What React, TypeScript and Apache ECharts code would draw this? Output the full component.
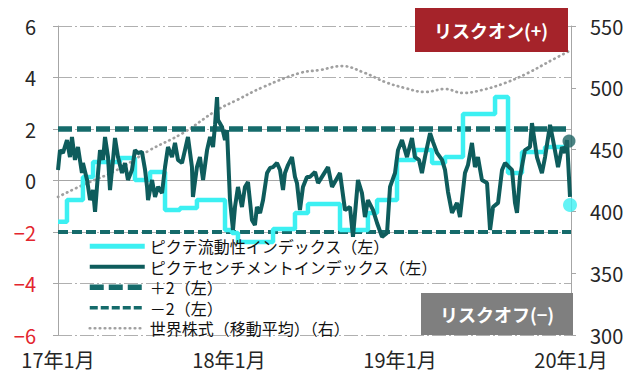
import React, { useEffect, useRef } from "react";
import * as echarts from "echarts";

const FONT = '"Noto Sans CJK JP", "Noto Sans", sans-serif';

// x values: months since 2017-01
const xLabels = ["17年1月", "18年1月", "19年1月", "20年1月"];
const seriesNames = [
  "ピクテ流動性インデックス（左）",
  "ピクテセンチメントインデックス（左）",
  "＋2（左）",
  "－2（左）",
  "世界株式（移動平均）（右）",
];
const upperBand = 2;
const lowerBand = -2;

const liquidity: [number, number][] = [
  [0, -1.6], [0.63, -0.76], [1.75, 0.14], [2.46, 0.72], [4.35, 0.87], [5.4, 0.02],
  [6.46, 0.33], [7.51, -1.15], [8.56, -1.07], [9.75, -0.76], [11.72, -1.92],
  [12.21, -2.04], [12.63, -2.39], [15.09, -1.88], [16.63, -1.26], [17.54, -0.91],
  [19.79, -1.92], [21.75, -1.26], [22.39, -0.76], [23.79, 0.8], [25.05, 1.18],
  [26.25, 0.68], [27.16, 0.91], [28.42, 2.58], [30.67, 3.24], [31.58, 0.29],
  [32.56, 1.11], [34.18, 1.3], [35.79, 1.3],
];

const sentiment: [number, number][] = [
  [0, 0.41], [0.14, 1.18], [0.35, 1.07], [0.63, 1.57], [0.84, 0.91], [0.98, 1.69], [1.19, 0.8],
  [1.4, 1.3], [1.68, 0.29], [1.75, 0.68], [2.04, 0.02], [2.25, -0.76], [2.46, -0.37], [2.6, -1.22],
  [2.81, 0.29], [2.95, 1.18], [3.16, 0.8], [3.3, 1.69], [3.51, 0.91], [3.65, -0.37], [3.86, 0.8],
  [4.0, 1.65], [4.21, 0.91], [4.49, 0.29], [4.7, 0.68], [4.91, 0.02], [5.19, 0.41], [5.4, 1.18],
  [5.61, 1.07], [5.89, 1.11], [6.11, 0.41], [6.25, -0.25], [6.32, -0.76], [6.6, 0.02], [6.81, -0.64],
  [7.02, -0.25], [7.3, -0.49], [7.51, 0.52], [7.72, 1.3], [8.0, 0.91], [8.21, 1.46], [8.42, 0.8],
  [8.7, 0.68], [8.91, 1.18], [9.12, 1.69], [9.4, 0.52], [9.47, -0.64], [9.75, 0.52], [9.96, 0.91],
  [10.18, 0.02], [10.46, 1.18], [10.67, 1.69], [10.88, 1.3], [11.02, 2.16], [11.16, 3.24],
  [11.23, 2.35], [11.51, 2.08], [11.72, 1.57], [11.86, 1.96], [12.07, -0.76], [12.28, -1.92],
  [12.42, -1.03], [12.63, -0.25], [12.91, -1.03], [13.12, -0.25], [13.33, -0.06], [13.61, -1.53],
  [13.82, -1.73], [13.96, -1.03], [14.18, -1.26], [14.39, -0.76], [14.67, 0.29], [14.88, 0.49],
  [15.09, 0.52], [15.37, 0.68], [15.58, 0.41], [15.79, -0.37], [15.93, 0.29], [16.14, 0.6],
  [16.42, 0.91], [16.63, 0.14], [16.77, -0.1], [16.98, -1.15], [17.19, -0.25], [17.47, 0.14],
  [17.68, 0.14], [18.04, 0.33], [18.25, -0.1], [18.6, 0.21], [18.95, 0.52], [19.23, -0.25],
  [19.51, 0.02], [19.79, 0.29], [20.14, -1.15], [20.49, -1.03], [20.7, -2.19], [21.05, 0.02],
  [21.33, -0.49], [21.54, -1.42], [21.75, -0.76], [22.11, -1.15], [22.39, -1.65], [22.74, -2.19],
  [23.09, -2.04], [23.3, -0.25], [23.65, 0.29], [23.86, 1.18], [24.14, 1.57], [24.49, 0.91],
  [24.84, 1.65], [25.05, 0.91], [25.33, 0.8], [25.54, 0.29], [25.75, 0.91], [26.11, 1.84],
  [26.32, 1.49], [26.6, 1.07], [26.95, 0.8], [27.16, 0.41], [27.37, -0.45], [27.65, -1.26],
  [28.0, -0.87], [28.21, -1.42], [28.56, 0.29], [28.77, 0.6], [29.05, 1.46], [29.26, 0.52],
  [29.47, 0.91], [29.75, 0.02], [30.11, -0.1], [30.32, -1.92], [30.53, -1.03], [30.88, -0.87],
  [31.16, 0.41], [31.37, 0.68], [31.86, 0.41], [32.07, -0.87], [32.21, -1.26], [32.42, 0.14],
  [32.77, 1.18], [33.12, 1.3], [33.26, 2.23], [33.61, 0.91], [33.96, 0.29], [34.18, 0.91],
  [34.53, 2.16], [34.74, 1.57], [35.09, 0.52], [35.37, 1.3], [35.58, 1.07], [35.72, 1.57],
  [35.93, -0.64],
];

const worldStocks: [number, number][] = [
  [0, 411.7], [1.75, 421.4], [4.14, 433.5], [6.46, 449.7], [8.77, 463.4], [11.16, 482.0],
  [12.56, 490.1], [14.39, 500.6], [16.98, 512.0], [18.39, 514.4], [19.93, 517.6], [21.54, 512.0],
  [22.95, 504.7], [24.35, 499.8], [25.75, 496.6], [27.16, 499.0], [28.42, 495.8], [29.75, 498.2],
  [31.37, 503.9], [32.98, 512.0], [34.67, 522.5], [35.93, 530.0],
];

const sentimentLatest: [number, number] = [35.86, 1.53];
const liquidityLatest: [number, number] = [35.93, -0.95];

const X_MIN = 0;
const X_MAX = 36;

export default function App() {
  const ref = useRef<HTMLDivElement>(null);
  useEffect(() => {
    const chart = echarts.init(ref.current!, null, { renderer: "svg" });
    const axisGray = "#A6A6A6";
    const noMarker = { color: "rgba(0,0,0,0)", opacity: 0 };
    const cyan = "#3CF0F2";
    const darkTeal = "#0E5C5C";
    const bandTeal = "#156B6B";
    const dotGray = "#A0A0A0";
    const styles = {
      liquidity: { color: cyan, width: 4.5 },
      sentiment: { color: darkTeal, width: 4 },
      upper: { color: bandTeal, width: 5.5, type: [14, 5] },
      lower: { color: bandTeal, width: 4, type: [10, 4] },
      world: { color: dotGray, width: 2.7, type: [0.5, 4.5], cap: "round" },
    };
    chart.setOption({
      animation: false,
      textStyle: { fontFamily: FONT },
      grid: { left: 58, right: 69, top: 26, bottom: 48 },
      xAxis: {
        type: "value",
        min: X_MIN,
        max: X_MAX,
        interval: 12,
        axisLine: { show: true, lineStyle: { color: axisGray } },
        axisTick: { show: false },
        splitLine: { show: false },
        axisLabel: {
          formatter: (v: number) => xLabels[Math.round(v / 12)] ?? "",
          fontSize: 20,
          color: "#262626",
          fontFamily: FONT,
          margin: 14,
        },
      },
      yAxis: [
        {
          type: "value",
          min: -6,
          max: 6,
          interval: 2,
          position: "left",
          axisLine: { show: true, lineStyle: { color: axisGray } },
          axisTick: { show: true, length: 5, lineStyle: { color: axisGray } },
          axisLabel: {
            fontSize: 20,
            fontFamily: FONT,
            margin: 22,
            color: (v: any) => (Number(v) < 0 ? "#E3262E" : "#262626"),
            formatter: (v: number) => (v < 0 ? "−" + Math.abs(v) : String(v)),
          },
          splitLine: { show: true, lineStyle: { color: "#B0B0B0", type: [14, 3, 2, 3] } },
        },
        {
          type: "value",
          min: 300,
          max: 550,
          interval: 50,
          position: "right",
          axisLine: { show: true, lineStyle: { color: axisGray } },
          axisTick: { show: true, length: 5, lineStyle: { color: axisGray } },
          axisLabel: { fontSize: 20, fontFamily: FONT, margin: 19, color: "#262626" },
          splitLine: { show: false },
        },
      ],
      legend: {
        data: [
          { name: seriesNames[0], lineStyle: { ...styles.liquidity, width: 5 } },
          { name: seriesNames[1], lineStyle: { ...styles.sentiment } },
          { name: seriesNames[2], lineStyle: { ...styles.upper, width: 5.5 } },
          { name: seriesNames[3], lineStyle: { ...styles.lower, width: 3.5, type: [8, 3] } },
          { name: seriesNames[4], lineStyle: { ...styles.world } },
        ],
        orient: "vertical",
        left: 87,
        top: 236,
        padding: 0,
        itemWidth: 55,
        itemHeight: 14,
        itemGap: 0,
        itemStyle: { opacity: 0 },
        textStyle: { fontSize: 16, fontFamily: FONT, color: "#111", lineHeight: 20.5 },
      },
      series: [
        {
          name: seriesNames[4],
          type: "line",
          yAxisIndex: 1,
          data: worldStocks,
          smooth: 0.4,
          symbol: "none",
          itemStyle: noMarker,
          lineStyle: styles.world,
          z: 1,
        },
        {
          name: seriesNames[2],
          type: "line",
          data: [[X_MIN, upperBand], [X_MAX, upperBand]],
          symbol: "none",
          itemStyle: noMarker,
          lineStyle: styles.upper,
          z: 2,
        },
        {
          name: seriesNames[3],
          type: "line",
          data: [[X_MIN, lowerBand], [X_MAX, lowerBand]],
          symbol: "none",
          itemStyle: noMarker,
          lineStyle: styles.lower,
          z: 2,
        },
        {
          name: seriesNames[0],
          type: "line",
          step: "end",
          data: liquidity,
          symbol: "none",
          itemStyle: noMarker,
          lineStyle: styles.liquidity,
          z: 3,
        },
        {
          name: seriesNames[1],
          type: "line",
          data: sentiment,
          symbol: "none",
          itemStyle: noMarker,
          lineStyle: styles.sentiment,
          z: 4,
        },
        {
          type: "scatter",
          data: [sentimentLatest],
          symbolSize: 13,
          itemStyle: { color: "#1E6464" },
          z: 5,
        },
        {
          type: "scatter",
          data: [liquidityLatest],
          symbolSize: 14,
          itemStyle: { color: cyan },
          z: 5,
        },
      ],
      graphic: [
        {
          type: "rect",
          shape: { x: 415, y: 8, width: 153, height: 44 },
          style: { fill: "#A5232A" },
          z: 100,
        },
        {
          type: "text",
          x: 491,
          y: 30,
          style: {
            text: "リスクオン(+)",
            fill: "#FFFFFF",
            fontSize: 18,
            fontWeight: "bold",
            fontFamily: FONT,
            align: "center",
            verticalAlign: "middle",
          },
          z: 101,
        },
        {
          type: "rect",
          shape: { x: 421, y: 293, width: 152, height: 42 },
          style: { fill: "#7F7F7F" },
          z: 100,
        },
        {
          type: "text",
          x: 497,
          y: 314,
          style: {
            text: "リスクオフ(−)",
            fill: "#FFFFFF",
            fontSize: 18,
            fontWeight: "bold",
            fontFamily: FONT,
            align: "center",
            verticalAlign: "middle",
          },
          z: 101,
        },
      ],
    });
    return () => chart.dispose();
  }, []);
  return (
    <div
      ref={ref}
      style={{ position: "absolute", left: 0, top: 0, width: 640, height: 383, background: "#fff" }}
    />
  );
}
